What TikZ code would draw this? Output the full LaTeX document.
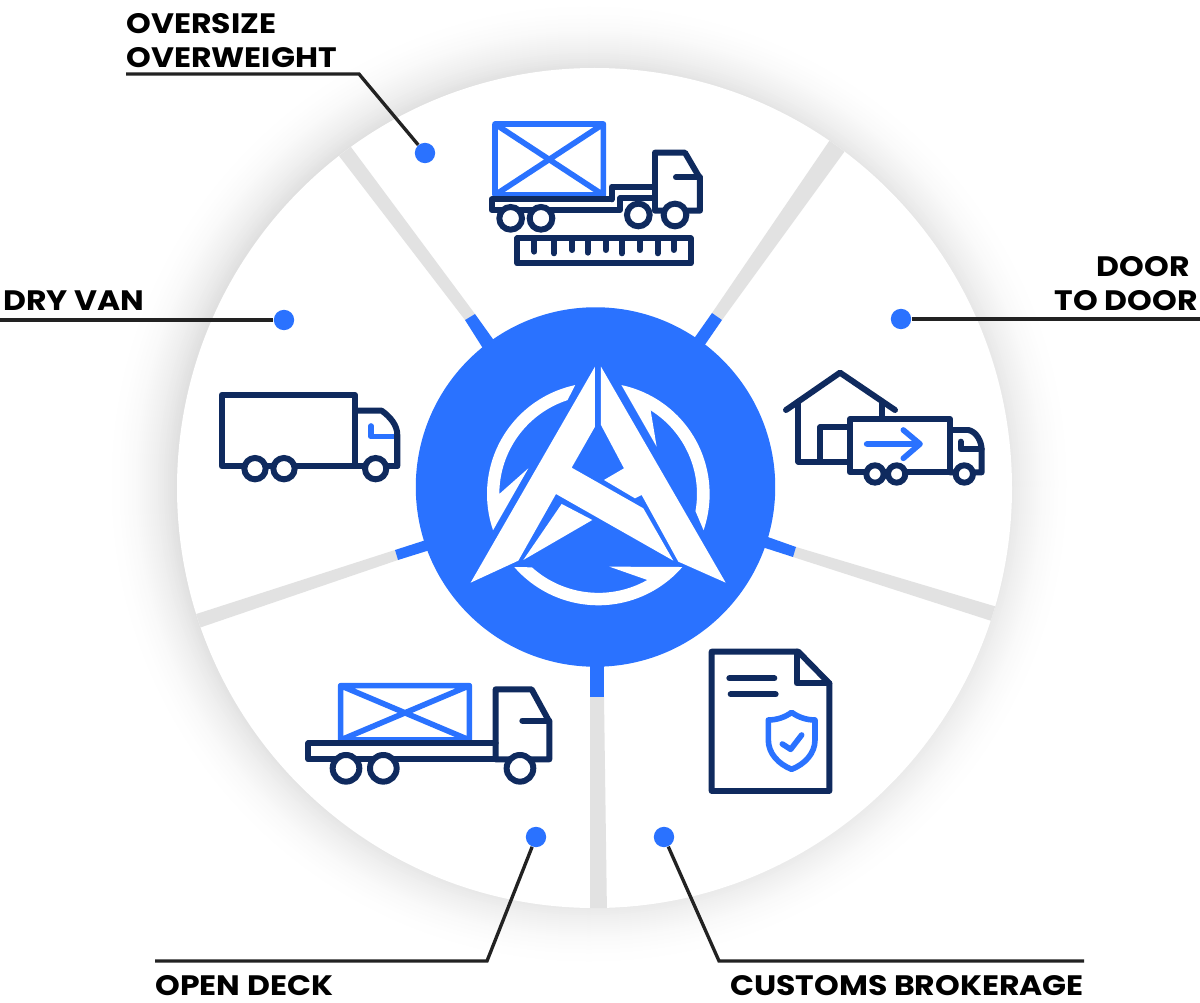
\documentclass[tikz,border=0pt]{standalone}
\usepackage{fontspec}
\setmainfont{Poppins}[FakeStretch=1.12]
\usetikzlibrary{arrows.meta,positioning}
\definecolor{brandblue}{HTML}{2A72FF}
\definecolor{navy}{HTML}{0F2A5E}
\definecolor{spokegray}{HTML}{E2E2E2}
\definecolor{leaderink}{HTML}{222222}
\tikzset{
  icon/.style={draw=navy,line width=3.4pt,line join=round,line cap=round},
  iconblue/.style={draw=brandblue,line width=3.2pt,line join=round,line cap=round},
  wheel/.style={draw=navy,fill=white,line width=3.4pt},
  spoke/.style={fill=spokegray},
  stub/.style={fill=brandblue},
  dot/.style={circle,fill=brandblue,inner sep=0pt,minimum size=11.6pt},
  leader/.style={draw=leaderink,line width=1.9pt,line join=miter},
  lab/.style={inner sep=0pt,text=black,font=\bfseries\fontsize{16}{19.8}\selectfont},
}
\begin{document}
\begin{tikzpicture}[x=0.02cm,y=-0.02cm]
    \useasboundingbox (0,0) rectangle (1200,1003);
    \fill[white] (0,0) rectangle (1200,1003);
    % soft halo behind the wheel
    \foreach \r in {485,483,...,410}{
      \pgfmathsetmacro{\k}{11*((485-\r)/68)^2}
      \fill[black!\k!white] (589,484) circle (\r);
    }
    \fill[white] (594.5,488) ellipse (417.5 and 420);
    % spokes
    \begin{scope}
      \clip (594.5,488) ellipse (417.5 and 420);
      \fill[spoke] (336,152) -- (345,139) -- (475,314) -- (465,320) -- cycle;
      \fill[spoke] (834,134) -- (850,144) -- (722,320) -- (712,313) -- cycle;
      \fill[spoke] (1004,609) -- (1004,625) -- (793,557) -- (796,547) -- cycle;
      \fill[spoke] (607,915) -- (590,915) -- (590,697) -- (604,697) -- cycle;
      \fill[spoke] (193,630) -- (187,617) -- (395,550) -- (398,560) -- cycle;
    \end{scope}
    \fill[stub] (465,320) -- (475,314) -- (495,342) -- (484,350) -- cycle;
    \fill[stub] (712,313) -- (722,320) -- (702,349) -- (693,340) -- cycle;
    \fill[stub] (796,547) -- (793,557) -- (762,547) -- (765,536) -- cycle;
    \fill[stub] (604,697) -- (590,697) -- (590,660) -- (604,660) -- cycle;
    \fill[stub] (395,550) -- (398,560) -- (430,550) -- (426,540) -- cycle;
    \node[circle,fill=brandblue,inner sep=0pt,minimum size=204.6pt] (hub) at (595.5,487) {};
    % logo
    \begin{scope}[shift={(400,300)},scale=0.3333,white]
      \fill (585,200) -- (585,380) -- (515,503) -- (730,625) -- (820,782) -- (468,582) -- (355,782) -- (212,848) -- cycle;
      \fill (603,200) -- (603,375) -- (672,505) -- (612,540) -- (705,595) -- (725,585) -- (835,785) -- (977,848) -- cycle;
      \fill (485,612) -- (577,660) -- (370,780) -- cycle;
      \begin{scope}[shift={(595,582)}]
        \fill (-78:334) arc[start angle=-78,end angle=19,radius=334] -- (10:296) arc[start angle=10,end angle=-58,radius=296] -- (175,-142) -- cycle;
        \fill (258:334) arc[start angle=258,end angle=161,radius=334] -- (-210,-77) -- (180:297) arc[start angle=180,end angle=252,radius=296] -- cycle;
        \fill (139:334) arc[start angle=139,end angle=41,radius=334] -- (33,218) -- (147,258) arc[start angle=60.5,end angle=132,radius=298] -- cycle;
      \end{scope}
    \end{scope}
    % oversize truck
    \begin{scope}[shift={(470,100)},scale=0.3333]
      \draw[iconblue] (75,72) rectangle (400,285) (75,72) -- (400,285) (75,285) -- (400,72);
      \draw[icon] (425,298) -- (65,298) -- (65,330) -- (450,330) -- (450,295) -- (555,295);
      \draw[icon] (425,298) -- (425,260) -- (555,260);
      \draw[icon] (555,325) -- (555,158) -- (645,158) -- (690,235) -- (690,332) -- (555,332) -- cycle;
      \draw[icon] (618,232) -- (690,232);
      \foreach \wx/\wy in {122/355,213/355,505/345,615/345}
        \draw[wheel] (\wx,\wy) circle (34);
      \draw[icon] (142,415) rectangle (662,490);
      \foreach \tx/\ty in {193/455,252/460,307/450,353/458,407/450,455/460,509/450,563/460,611/450}
        \draw[icon] (\tx,415) -- (\tx,\ty);
    \end{scope}
    % door to door
    \begin{scope}[shift={(770,350)},scale=0.3333]
      \draw[icon] (48,180) -- (210,68) -- (375,180);
      \draw[icon] (85,155) -- (85,335) -- (240,335);
      \draw[icon] (335,155) -- (335,205);
      \draw[icon] (150,335) -- (150,232) -- (240,232);
      \draw[icon] (240,207) rectangle (540,367);
      \draw[icon] (540,240) -- (595,240) .. controls (620,245) and (635,275) .. (635,300) -- (635,367) -- (540,367);
      \draw[icon] (572,275) -- (572,297) -- (635,297);
      \foreach \wx in {315,380,583}
        \draw[wheel] (\wx,372) circle (26);
      \draw[iconblue] (290,282) -- (450,282) (400,240) -- (450,282) -- (400,325);
    \end{scope}
    % dry van
    \begin{scope}[shift={(200,370)},scale=0.3333]
      \draw[icon] (65,75) rectangle (465,288);
      \draw[icon] (465,122) -- (545,122) .. controls (570,140) and (592,165) .. (592,195) -- (592,288) -- (465,288);
      \draw[iconblue] (513,168) -- (513,200) -- (585,200);
      \draw[icon] (592,195) -- (592,288);
      \foreach \wx in {165,252,527}
        \draw[wheel] (\wx,296) circle (32);
    \end{scope}
    % open deck
    \begin{scope}[shift={(290,660)},scale=0.3333]
      \draw[iconblue] (152,77) rectangle (538,240) (152,77) -- (538,240) (152,240) -- (538,77);
      \draw[icon] (617,250) -- (55,250) -- (55,298) -- (617,298);
      \draw[icon] (617,298) -- (617,88) -- (725,88) -- (778,185) -- (778,298) -- cycle;
      \draw[icon] (697,182) -- (778,182);
      \foreach \wx in {168,280,690}
        \draw[wheel] (\wx,325) circle (40);
    \end{scope}
    % customs document
    \begin{scope}[shift={(690,640)},scale=0.3333]
      \draw[icon] (65,35) -- (325,35) -- (418,130) -- (418,453) -- (65,453) -- cycle;
      \draw[icon] (320,35) -- (320,130) -- (418,130);
      \draw[icon] (118,115) -- (253,115);
      \draw[icon] (122,163) -- (257,163);
      \draw[iconblue] (305,217) .. controls (285,232) and (260,240) .. (235,240) -- (235,300) .. controls (235,340) and (265,372) .. (305,388) .. controls (345,372) and (375,340) .. (375,300) -- (375,240) .. controls (350,240) and (325,232) .. (305,217) -- cycle;
      \draw[iconblue] (277,312) -- (302,328) -- (335,285);
    \end{scope}
    % callouts
    \node[dot] (dotOversize) at (425,153) {};
    \node[dot] (dotDryVan) at (284,320) {};
    \node[dot] (dotDoor) at (901,319) {};
    \node[dot] (dotOpenDeck) at (536,837) {};
    \node[dot] (dotCustoms) at (664,837) {};
    \coordinate (bendOversize) at (359,74);
    \coordinate (endOversize) at (126,74);
    \coordinate (endDryVan) at (0,320);
    \coordinate (endDoor) at (1200,319);
    \coordinate (bendOpenDeck) at (487,961);
    \coordinate (endOpenDeck) at (155,961);
    \coordinate (bendCustoms) at (719,961);
    \coordinate (endCustoms) at (1084,961);
    \draw[leader] (dotOversize) -- (bendOversize) -- (endOversize);
    \draw[leader] (dotDryVan) -- (endDryVan);
    \draw[leader] (dotDoor) -- (endDoor);
    \draw[leader] (dotOpenDeck) -- (bendOpenDeck) -- (endOpenDeck);
    \draw[leader] (dotCustoms) -- (bendCustoms) -- (endCustoms);
    \node[lab,anchor=base west,align=left] (labOversize) at (126,68) {OVERSIZE\\OVERWEIGHT};
    \node[lab,anchor=base west] (labDryVan) at (3,311) {DRY VAN};
    \node[lab,anchor=base east,align=right] (labDoor) at (1198,311) {DOOR\hspace*{4.5pt}\\TO DOOR};
    \node[lab,anchor=base west] (labOpenDeck) at (155,995) {OPEN DECK};
    \node[lab,anchor=base west] (labCustoms) at (730,995) {CUSTOMS BROKERAGE};
\end{tikzpicture}
\end{document}
